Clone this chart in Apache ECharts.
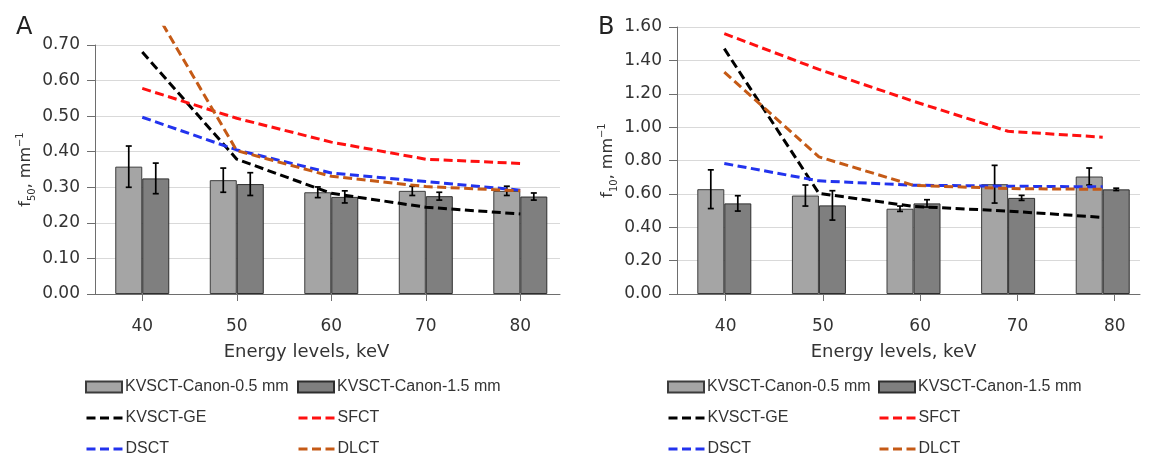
<!DOCTYPE html>
<html>
<head>
<meta charset="utf-8">
<script src="https://cdn.jsdelivr.net/npm/echarts@6/dist/echarts.min.js"></script>
<style>
  html, body { margin: 0; padding: 0; background: #fff; }
  #chart { width: 1153px; height: 457px; }
</style>
</head>
<body>
<div id="chart"></div>
<script>
// Energy levels (keV) on the x axis
const energies = [40, 50, 60, 70, 80];

// Panel A: f50 (mm^-1)
const aCanon05 = [0.358, 0.320, 0.286, 0.290, 0.290];
const aCanon05Err = [0.058, 0.034, 0.015, 0.013, 0.013];
const aCanon15 = [0.325, 0.309, 0.273, 0.275, 0.274];
const aCanon15Err = [0.043, 0.032, 0.017, 0.011, 0.010];
const aGE = [0.680, 0.379, 0.283, 0.244, 0.225];
const aSFCT = [0.578, 0.494, 0.427, 0.379, 0.367];
const aDSCT = [0.497, 0.405, 0.340, 0.316, 0.292];
const aDLCT = [0.857, 0.403, 0.331, 0.302, 0.290];

// Panel B: f10 (mm^-1)
const bCanon05 = [0.628, 0.590, 0.511, 0.658, 0.704];
const bCanon05Err = [0.116, 0.063, 0.016, 0.113, 0.051];
const bCanon15 = [0.543, 0.531, 0.543, 0.576, 0.627];
const bCanon15Err = [0.046, 0.088, 0.022, 0.015, 0.007];
const bGE = [1.470, 0.603, 0.525, 0.497, 0.459];
const bSFCT = [1.560, 1.346, 1.155, 0.975, 0.940];
const bDSCT = [0.782, 0.678, 0.652, 0.646, 0.642];
const bDLCT = [1.330, 0.822, 0.651, 0.632, 0.627];

// Series names
const N05 = 'KVSCT-Canon-0.5 mm';
const N15 = 'KVSCT-Canon-1.5 mm';
const NGE = 'KVSCT-GE';
const NSF = 'SFCT';
const NDS = 'DSCT';
const NDL = 'DLCT';
const X_TITLE = 'Energy levels, keV';

const AXIS_FONT = '"DejaVu Sans", "Liberation Sans", Arial, sans-serif';
const LEGEND_FONT = '"Liberation Sans", Arial, Helvetica, sans-serif';
const TEXT_COLOR = '#333333';
const AXIS_COLOR = '#6e6e6e';
const GRID_COLOR = '#d9d9d9';
const BAR_W = 27;
const DASH = [9, 4.5];

const lineColors = { ge: '#000000', sf: '#ff1010', ds: '#2233ee', dl: '#c55a16' };

const H = 457;
const PLOT_BOTTOM = 294; // pixel row of the y = 0 baseline

function pairs(vals) { return energies.map((e, i) => [e, vals[i]]); }
function errPairs(vals, errs) { return energies.map((e, i) => [e, vals[i] - errs[i], vals[i] + errs[i]]); }

function errRender(dx) {
  return function (params, api) {
    const x = api.value(0);
    const top = api.coord([x, api.value(2)]);
    const bot = api.coord([x, api.value(1)]);
    const cx = top[0] + dx;
    const cap = 3;
    const style = { stroke: '#000', lineWidth: 1.7 };
    return {
      type: 'group',
      children: [
        { type: 'line', shape: { x1: cx, y1: top[1], x2: cx, y2: bot[1] }, style },
        { type: 'line', shape: { x1: cx - cap, y1: top[1], x2: cx + cap, y2: top[1] }, style },
        { type: 'line', shape: { x1: cx - cap, y1: bot[1], x2: cx + cap, y2: bot[1] }, style }
      ]
    };
  };
}

function yName(sub) {
  return {
    text: '{t|f}{s|' + sub + '}{t|, mm}{p|\u22121}',
    rich: {
      t: { fontFamily: AXIS_FONT, fontSize: 16, color: TEXT_COLOR, lineHeight: 22 },
      s: { fontFamily: AXIS_FONT, fontSize: 10, color: TEXT_COLOR, lineHeight: 11, verticalAlign: 'bottom' },
      p: { fontFamily: AXIS_FONT, fontSize: 10, color: TEXT_COLOR, lineHeight: 11, verticalAlign: 'top' }
    }
  };
}

function bottomAxis(gridIndex, min, max, withTitle, titleShift) {
  return {
    type: 'value', gridIndex, min, max, position: 'bottom', offset: 0,
    splitLine: { show: false },
    axisLine: { show: true, onZero: false, lineStyle: { color: AXIS_COLOR } },
    axisTick: { show: true, length: 7, customValues: energies, lineStyle: { color: AXIS_COLOR } },
    axisLabel: { customValues: energies, margin: 24, fontFamily: AXIS_FONT, fontSize: 17, color: TEXT_COLOR },
    name: withTitle ? X_TITLE : '', nameLocation: 'middle', nameGap: 49,
    nameTextStyle: { fontFamily: AXIS_FONT, fontSize: 18, color: TEXT_COLOR, padding: [0, titleShift * 2, 0, 0] }
  };
}

const grids = [];
const xAxes = [];
const yAxes = [];
const series = [];

// Builds one panel: a visible grid for bars and axes, and an overlay grid
// holding the dashed lines, clipped at lineClipMax.
function buildPanel(p) {
  const plotH = PLOT_BOTTOM - p.top;
  const gMain = grids.length;
  grids.push({ left: p.left, width: p.width, top: p.top, bottom: H - PLOT_BOTTOM, containLabel: false, outerBoundsMode: 'none' });
  const gLine = grids.length;
  grids.push({ left: p.left, width: p.width, top: PLOT_BOTTOM - plotH * p.lineClipMax / p.yMax, bottom: H - PLOT_BOTTOM, containLabel: false, outerBoundsMode: 'none' });

  const yn = yName(p.sub);
  const yMain = yAxes.length;
  yAxes.push({
    type: 'value', gridIndex: gMain, min: 0, max: p.yMax, interval: p.yInterval, position: 'left',
    name: yn.text, nameLocation: 'middle', nameRotate: 90, nameGap: 58,
    nameTextStyle: { rich: yn.rich },
    axisLine: { show: true, lineStyle: { color: AXIS_COLOR, width: 1 } },
    axisTick: { show: true, length: 8, lineStyle: { color: AXIS_COLOR } },
    axisLabel: { margin: 15, fontFamily: AXIS_FONT, fontSize: 17, color: TEXT_COLOR, formatter: v => v.toFixed(2) },
    splitLine: { show: true, lineStyle: { color: GRID_COLOR, width: 1 } }
  });
  const yLine = yAxes.length;
  yAxes.push({ type: 'value', gridIndex: gLine, min: 0, max: p.lineClipMax, show: false, splitLine: { show: false } });

  // axis the bars are placed on
  const xData = xAxes.length;
  if (p.labelAxis) {
    xAxes.push({ type: 'value', gridIndex: gMain, min: p.xMin, max: p.xMax, position: 'bottom', show: false, splitLine: { show: false } });
    // tick and label axis with its own spacing
    xAxes.push(bottomAxis(gMain, p.labelAxis[0], p.labelAxis[1], true, p.titleShift));
  } else {
    xAxes.push(bottomAxis(gMain, p.xMin, p.xMax, true, p.titleShift));
  }
  const xLine = xAxes.length;
  xAxes.push({ type: 'value', gridIndex: gLine, min: p.xMin, max: p.xMax, position: 'bottom', show: false, splitLine: { show: false } });

  const barBase = { type: 'bar', xAxisIndex: xData, yAxisIndex: yMain, barWidth: BAR_W, barGap: '0%', z: 2 };
  series.push(Object.assign({}, barBase, {
    name: N05, data: pairs(p.c05),
    itemStyle: { color: '#a5a5a5', borderColor: '#3c3c3c', borderWidth: 1 }
  }));
  series.push(Object.assign({}, barBase, {
    name: N15, data: pairs(p.c15),
    itemStyle: { color: '#7f7f7f', borderColor: '#2e2e2e', borderWidth: 1 }
  }));
  series.push({ type: 'custom', name: 'err05', xAxisIndex: xData, yAxisIndex: yMain, z: 3,
    renderItem: errRender(-BAR_W / 2), data: errPairs(p.c05, p.c05e) });
  series.push({ type: 'custom', name: 'err15', xAxisIndex: xData, yAxisIndex: yMain, z: 3,
    renderItem: errRender(BAR_W / 2), data: errPairs(p.c15, p.c15e) });

  const lineSeries = [
    [NGE, p.ge, lineColors.ge],
    [NSF, p.sf, lineColors.sf],
    [NDS, p.ds, lineColors.ds],
    [NDL, p.dl, lineColors.dl]
  ];
  lineSeries.forEach(([name, vals, color]) => {
    series.push({
      type: 'line', name, xAxisIndex: xLine, yAxisIndex: yLine, data: pairs(vals),
      symbol: 'none', z: 4, clip: true,
      lineStyle: { color, width: 3, type: DASH },
      itemStyle: { color }
    });
  });
}

buildPanel({
  left: 95, width: 465, top: 45, yMax: 0.7, yInterval: 0.1, lineClipMax: 0.75, sub: '50',
  xMin: 35, xMax: 84.2, titleShift: 21,
  c05: aCanon05, c05e: aCanon05Err, c15: aCanon15, c15e: aCanon15Err,
  ge: aGE, sf: aSFCT, ds: aDSCT, dl: aDLCT
});
buildPanel({
  left: 677, width: 463, top: 27, yMax: 1.6, yInterval: 0.2, lineClipMax: 1.6, sub: '10',
  xMin: 35, xMax: 83.94, labelAxis: [35, 82.6], titleShift: 15,
  c05: bCanon05, c05e: bCanon05Err, c15: bCanon15, c15e: bCanon15Err,
  ge: bGE, sf: bSFCT, ds: bDSCT, dl: bDLCT
});

// One legend entry per component so each sits in its own cell of the 2 x 3 key
const ROWS = [378, 409, 440];
function legendItem(left, row, name) {
  const isBar = name === N05 || name === N15;
  const item = {
    orient: 'horizontal', left, top: ROWS[row], padding: 0,
    itemWidth: 36, itemHeight: 11, itemGap: 0, selectedMode: false,
    data: [isBar ? { name, icon: 'rect' } : { name, itemStyle: { opacity: 0 } }],
    textStyle: { fontFamily: LEGEND_FONT, fontSize: 16, color: TEXT_COLOR, lineHeight: 18, padding: [0, 0, 0, -2] }
  };
  if (!isBar) item.lineStyle = { type: DASH, width: 3 };
  return item;
}
const legendLayout = [[N05, N15], [NGE, NSF], [NDS, NDL]];
const legends = [];
[[85, 297], [667, 878]].forEach(cols => {
  legendLayout.forEach((pair, r) => {
    legends.push(legendItem(cols[0], r, pair[0]));
    legends.push(legendItem(cols[1], r, pair[1]));
  });
});

const option = {
  animation: false,
  backgroundColor: '#ffffff',
  title: [
    { text: 'A', left: 11, top: 11, textStyle: { fontFamily: AXIS_FONT, fontSize: 24, fontWeight: 'normal', color: '#222' } },
    { text: 'B', left: 593, top: 11, textStyle: { fontFamily: AXIS_FONT, fontSize: 24, fontWeight: 'normal', color: '#222' } }
  ],
  legend: legends,
  grid: grids,
  xAxis: xAxes,
  yAxis: yAxes,
  series
};

const chart = echarts.init(document.getElementById('chart'), null, { renderer: 'canvas' });
chart.setOption(option);
</script>
</body>
</html>
